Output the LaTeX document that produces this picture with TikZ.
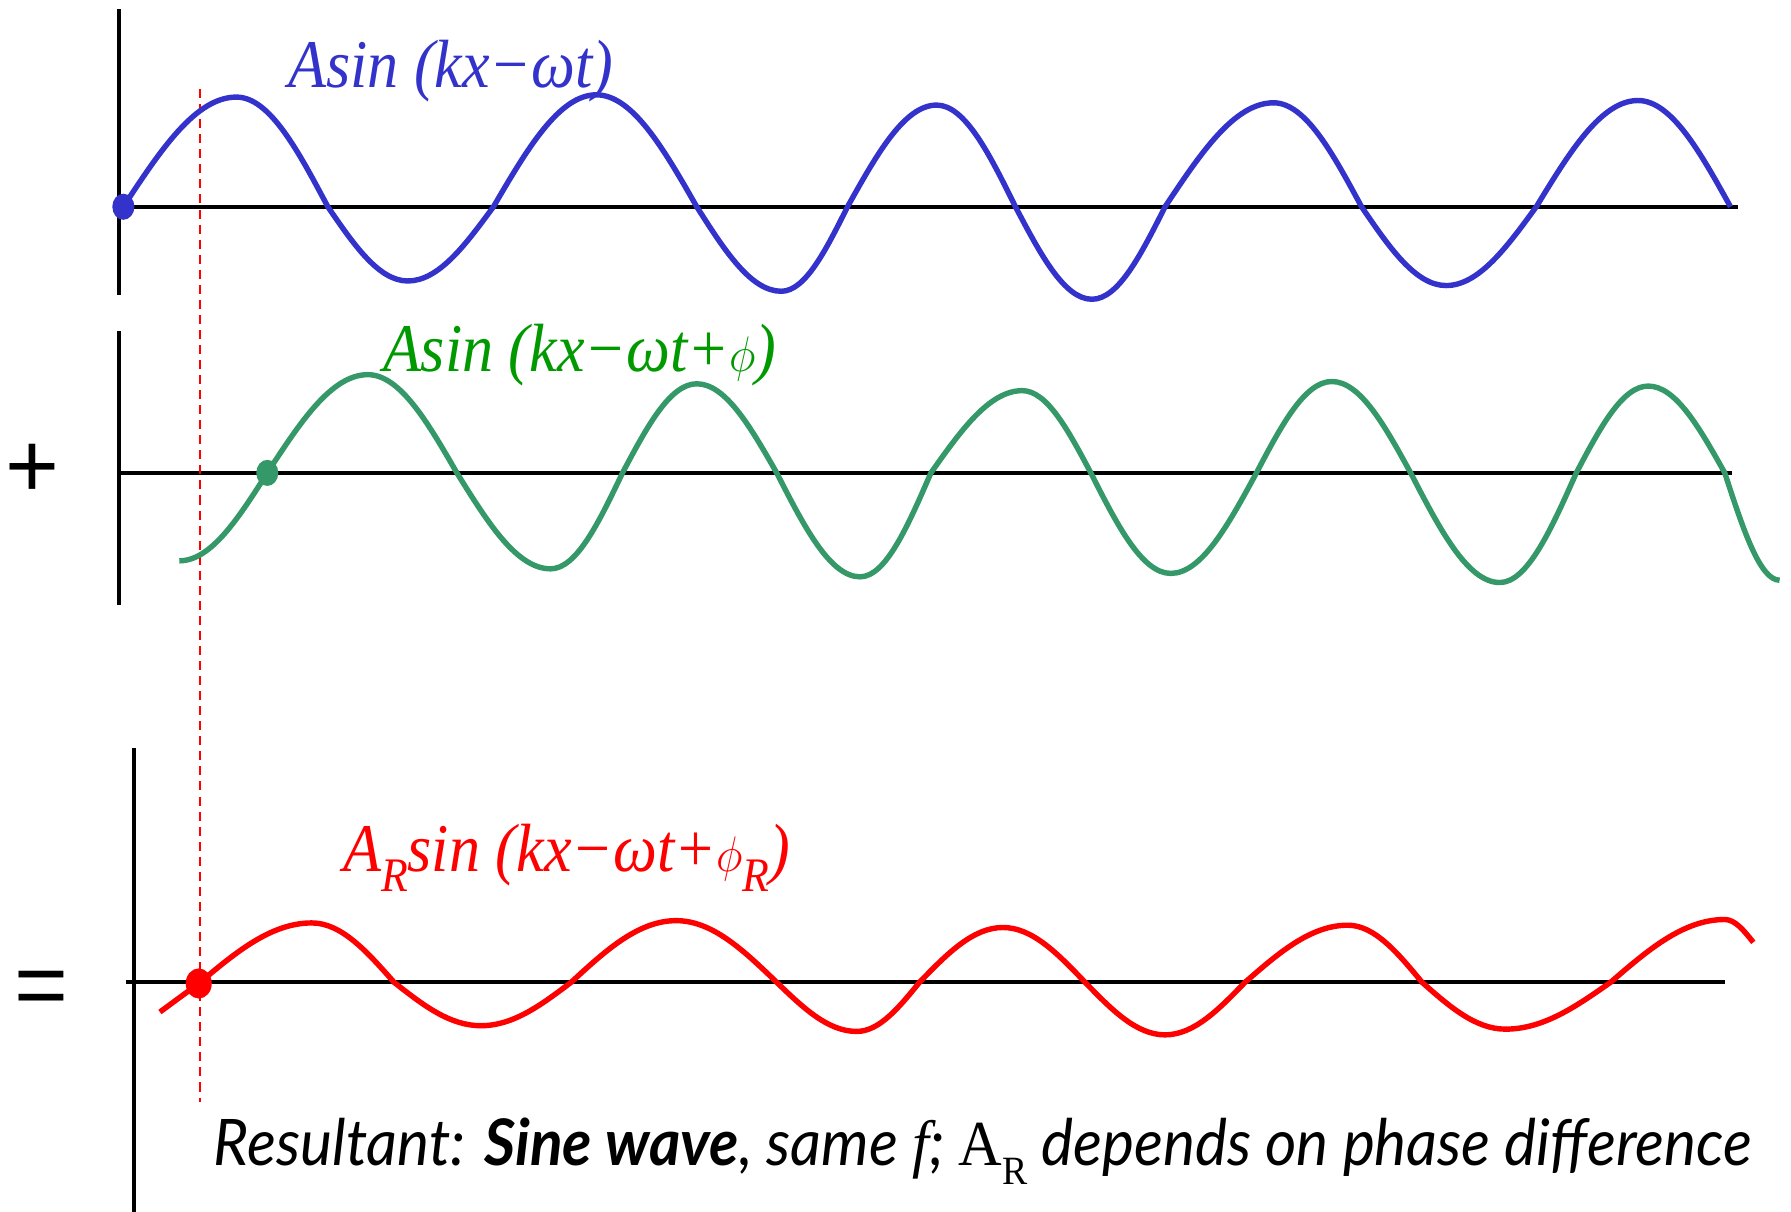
\documentclass[tikz,border=0pt]{standalone}
\usepackage{fontspec}
\setmainfont{Liberation Serif}
\setsansfont{Liberation Sans}
\newfontfamily\eqnfont{Liberation Serif}
\newfontfamily\notefont{Lato}
\usepackage{xcolor}
\usetikzlibrary{shapes.geometric}
\definecolor{waveblue}{RGB}{51,51,204}
\definecolor{wavegreen}{RGB}{52,152,104}
\definecolor{labelgreen}{RGB}{0,153,0}
\newcommand{\lowtxt}[2]{\raisebox{-0.3em}{\fontsize{#1}{#1}\selectfont #2}}
\newcommand{\eqntxt}[1]{\scalebox{0.91}[1]{#1}}

\begin{document}
\begin{tikzpicture}[x=0.02cm, y=-0.02cm,
  axis/.style={line width=2.1pt, black},
  wave/.style={line width=2.7pt, line join=round},
  dot/.style={ellipse, fill=#1, inner sep=0pt, minimum width=11pt, minimum height=13pt},
  eqn/.style={anchor=base west, inner sep=0pt, font=\eqnfont\itshape\fontsize{34}{34}\selectfont},
  sign/.style={inner sep=0pt, font=\sffamily\fontsize{46}{46}\selectfont}]
\useasboundingbox (0,0) rectangle (1568,1061);
% axes: vertical then horizontal, one pair per row
\draw[axis] (104,8) -- (104,258);   \draw[axis] (104,181) -- (1522,181);
\draw[axis] (104,290) -- (104,530); \draw[axis] (104,414) -- (1516,414);
\draw[axis] (117,655) -- (117,1061); \draw[axis] (110,860) -- (1510,860);
% reference line through the start points
\draw[red, line width=0.9pt, dash pattern=on 4.5pt off 3pt] (175,78) -- (175,965);
% waves: sin to each extremum, cos back to the next zero
\draw[wave, waveblue] (108,181)
  \foreach \ex/\ey/\zx in {207/85/287, 357/246/432, 522/83/610, 684/255/742, 820/92/889,
                           956/262/1020, 1115/90/1192, 1266/250/1345, 1434/88/1515}
  { sin (\ex,\ey) cos (\zx,181) };
\draw[wave, wavegreen] (157,491) cos (234,414)
  \foreach \ex/\ey/\zx in {322/328/400, 482/498/545, 610/336/680, 753/505/815, 895/342/955,
                           1025/502/1100, 1166/334/1235, 1313/510/1380, 1443/338/1510}
  { sin (\ex,\ey) cos (\zx,414) } sin (1558,508);
\draw[wave, red] (140,886) -- (174,861)
  \foreach \ex/\ey/\zx in {273/808/345, 421/898/500, 592/806/680, 750/903/805, 878/812/950,
                           1020/906/1090, 1180/810/1245, 1318/901/1410}
  { sin (\ex,\ey) cos (\zx,860) } sin (1510,805) cos (1535,825);
% start points
\node[dot=waveblue] (bluedot) at (108,181) {};
\node[dot=wavegreen] (greendot) at (234,414) {};
\node[dot=red, minimum width=13pt, minimum height=15pt] (reddot) at (174,861) {};
% labels
\node[eqn, waveblue] (bluelab) at (252,77) {\eqntxt{Asin (kx−ωt)}};
\node[eqn, labelgreen] (greenlab) at (335,325) {\eqntxt{Asin (kx−ωt+$\phi$)}};
\node[eqn, red] (redlab) at (300,763) {\eqntxt{A\lowtxt{24}{R}sin (kx−ωt+$\phi$\lowtxt{24}{R})}};
\node[sign] (plus) at (28,412) {+};
\node[sign] (equals) at (36,870) {=};
\node[anchor=base west, inner sep=0pt] (note) at (187,1020)
  {\scalebox{0.94}[1]{\notefont\itshape\fontsize{32}{32}\selectfont Resultant: \textbf{Sine wave}, same {\eqnfont f}; {\eqnfont\upshape A\lowtxt{20}{R}} depends on phase difference}};
\end{tikzpicture}
\end{document}
